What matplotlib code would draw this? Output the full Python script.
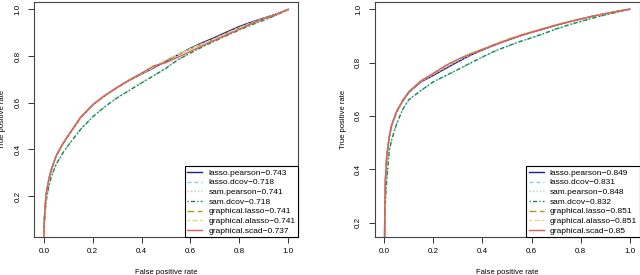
import matplotlib
matplotlib.use("Agg")
import matplotlib.pyplot as plt

plt.rcParams['font.family'] = ['Liberation Sans', 'DejaVu Sans']

# false positive rate grid (shared by all curves)
fpr = [0, 0.002, 0.005, 0.01, 0.02, 0.03, 0.05, 0.075, 0.1, 0.15, 0.2, 0.25, 0.3, 0.35,
       0.4, 0.45, 0.5, 0.55, 0.6, 0.65, 0.7, 0.75, 0.8, 0.85, 0.9, 0.95, 1.0]

methods = ['lasso.pearson', 'lasso.dcov', 'sam.pearson', 'sam.dcov',
           'graphical.lasso', 'graphical.alasso', 'graphical.scad']

# left panel
auc_left = ['0.743', '0.718', '0.741', '0.718', '0.741', '0.741', '0.737']
tpr_left_lasso_pearson = [0, 0.09, 0.15, 0.21, 0.268, 0.31, 0.37, 0.418, 0.458, 0.535, 0.59, 0.63, 0.665, 0.696,
                          0.723, 0.75, 0.778, 0.806, 0.834, 0.858, 0.88, 0.904, 0.927, 0.946, 0.963, 0.98, 1.0]
tpr_left_lasso_dcov = [0, 0.07, 0.12, 0.18, 0.24, 0.28, 0.335, 0.38, 0.418, 0.486, 0.54, 0.584, 0.622, 0.654,
                       0.686, 0.717, 0.749, 0.786, 0.814, 0.841, 0.866, 0.89, 0.913, 0.935, 0.955, 0.975, 1.0]
tpr_left_sam_pearson = [0, 0.09, 0.15, 0.21, 0.268, 0.31, 0.369, 0.418, 0.458, 0.535, 0.589, 0.63, 0.665, 0.697,
                        0.724, 0.752, 0.781, 0.806, 0.831, 0.853, 0.875, 0.899, 0.922, 0.943, 0.961, 0.979, 1.0]
tpr_left_sam_dcov = [0, 0.07, 0.12, 0.18, 0.24, 0.28, 0.335, 0.38, 0.417, 0.485, 0.539, 0.583, 0.621, 0.653,
                     0.685, 0.716, 0.748, 0.785, 0.813, 0.84, 0.865, 0.889, 0.912, 0.934, 0.954, 0.975, 1.0]
tpr_left_graphical_lasso = [0, 0.09, 0.15, 0.21, 0.268, 0.31, 0.37, 0.418, 0.458, 0.535, 0.59, 0.63, 0.665, 0.697,
                            0.725, 0.753, 0.782, 0.807, 0.831, 0.853, 0.874, 0.898, 0.921, 0.942, 0.961, 0.979, 1.0]
tpr_left_graphical_alasso = [0, 0.09, 0.15, 0.21, 0.268, 0.31, 0.37, 0.418, 0.458, 0.535, 0.59, 0.63, 0.665, 0.697,
                             0.725, 0.754, 0.783, 0.808, 0.832, 0.854, 0.875, 0.899, 0.922, 0.943, 0.961, 0.979, 1.0]
tpr_left_graphical_scad = [0, 0.09, 0.15, 0.21, 0.268, 0.31, 0.371, 0.42, 0.46, 0.537, 0.592, 0.632, 0.666, 0.698,
                           0.727, 0.758, 0.772, 0.796, 0.82, 0.845, 0.868, 0.892, 0.915, 0.94, 0.96, 0.978, 1.0]

# right panel
auc_right = ['0.849', '0.831', '0.848', '0.832', '0.851', '0.851', '0.85']
tpr_right_lasso_pearson = [0, 0.27, 0.37, 0.45, 0.52, 0.565, 0.615, 0.655, 0.688, 0.728, 0.752, 0.778, 0.803, 0.827,
                           0.847, 0.866, 0.883, 0.899, 0.913, 0.926, 0.94, 0.952, 0.963, 0.974, 0.983, 0.992, 1.0]
tpr_right_lasso_dcov = [0, 0.2, 0.29, 0.36, 0.47, 0.51, 0.57, 0.625, 0.66, 0.695, 0.727, 0.75, 0.773, 0.797,
                        0.82, 0.842, 0.86, 0.877, 0.892, 0.908, 0.925, 0.94, 0.953, 0.966, 0.978, 0.989, 1.0]
tpr_right_sam_pearson = [0, 0.27, 0.37, 0.45, 0.52, 0.565, 0.615, 0.655, 0.688, 0.729, 0.755, 0.781, 0.806, 0.828,
                         0.847, 0.865, 0.882, 0.898, 0.912, 0.925, 0.939, 0.951, 0.962, 0.973, 0.983, 0.992, 1.0]
tpr_right_sam_dcov = [0, 0.2, 0.29, 0.36, 0.47, 0.51, 0.57, 0.625, 0.661, 0.696, 0.728, 0.751, 0.774, 0.798,
                      0.821, 0.843, 0.861, 0.878, 0.893, 0.909, 0.926, 0.941, 0.954, 0.967, 0.979, 0.989, 1.0]
tpr_right_graphical_lasso = [0, 0.27, 0.37, 0.45, 0.52, 0.566, 0.616, 0.657, 0.69, 0.731, 0.758, 0.787, 0.811, 0.832,
                             0.85, 0.869, 0.886, 0.901, 0.915, 0.928, 0.941, 0.953, 0.963, 0.974, 0.983, 0.992, 1.0]
tpr_right_graphical_alasso = [0, 0.27, 0.37, 0.45, 0.52, 0.566, 0.616, 0.657, 0.69, 0.731, 0.758, 0.787, 0.811, 0.832,
                              0.851, 0.87, 0.887, 0.902, 0.916, 0.929, 0.942, 0.953, 0.963, 0.974, 0.983, 0.992, 1.0]
tpr_right_graphical_scad = [0, 0.27, 0.37, 0.45, 0.52, 0.566, 0.617, 0.658, 0.691, 0.732, 0.76, 0.789, 0.812, 0.832,
                            0.849, 0.867, 0.884, 0.9, 0.914, 0.927, 0.94, 0.952, 0.963, 0.974, 0.983, 0.992, 1.0]

tpr_left = [tpr_left_lasso_pearson, tpr_left_lasso_dcov, tpr_left_sam_pearson, tpr_left_sam_dcov,
            tpr_left_graphical_lasso, tpr_left_graphical_alasso, tpr_left_graphical_scad]
tpr_right = [tpr_right_lasso_pearson, tpr_right_lasso_dcov, tpr_right_sam_pearson, tpr_right_sam_dcov,
             tpr_right_graphical_lasso, tpr_right_graphical_alasso, tpr_right_graphical_scad]

colors = ['#1c1c8a', '#87cefa', '#9ad9c4', '#228b3c', '#a3a31a', '#e6d58c', '#e05c5c']
styles = ['-', (0, (3, 2)), (0, (1, 1.5)), (0, (1, 1.5, 3, 1.5)), (0, (5, 2.5)), (0, (2, 1.5, 4, 1.5)), '-']

fig = plt.figure(figsize=(6.4, 2.75), dpi=100)
ax1 = fig.add_axes([34 / 640, 37.7 / 275, 264 / 640, 235.3 / 275])
ax2 = fig.add_axes([374.5 / 640, 37.7 / 275, 265 / 640, 235.3 / 275])


def draw(ax, tprs, aucs, ylim, yticks):
    for m, t, a, c, s in zip(methods, tprs, aucs, colors, styles):
        ax.plot(fpr, t, color=c, linestyle=s, lw=1.0, label=f'{m}\u2212{a}')
    ax.set_xlim(-0.04, 1.04)
    ax.set_ylim(*ylim)
    ax.set_xticks([0, 0.2, 0.4, 0.6, 0.8, 1.0])
    ax.set_xticklabels(['0.0', '0.2', '0.4', '0.6', '0.8', '1.0'])
    ax.set_yticks(yticks)
    ax.set_yticklabels([f'{v:.1f}' for v in yticks], rotation=90, va='center')
    ax.tick_params(axis='x', length=4, width=0.7, pad=4, labelsize=5.8, color='#333333')
    ax.tick_params(axis='y', length=4, width=0.7, pad=5, labelsize=5.8, color='#333333')
    for sp in ax.spines.values():
        sp.set_color('#444444')
        sp.set_linewidth(0.8)
    ax.set_xlabel('False positive rate', fontsize=5.5, labelpad=10)
    ax.set_ylabel('True positive rate', fontsize=5.5, labelpad=6)
    leg = ax.legend(loc='lower right', borderaxespad=0, fontsize=6, frameon=True, fancybox=False,
                    framealpha=1, edgecolor='black', handlelength=1.8, handletextpad=0.75,
                    labelspacing=0.22, borderpad=0.3)
    leg.get_frame().set_linewidth(0.8)


draw(ax1, tpr_left, auc_left, (0.023, 1.032), [0.2, 0.4, 0.6, 0.8, 1.0])
draw(ax2, tpr_right, auc_right, (0.145, 1.027), [0.2, 0.4, 0.6, 0.8, 1.0])

fig.savefig('out.png', dpi=100)
